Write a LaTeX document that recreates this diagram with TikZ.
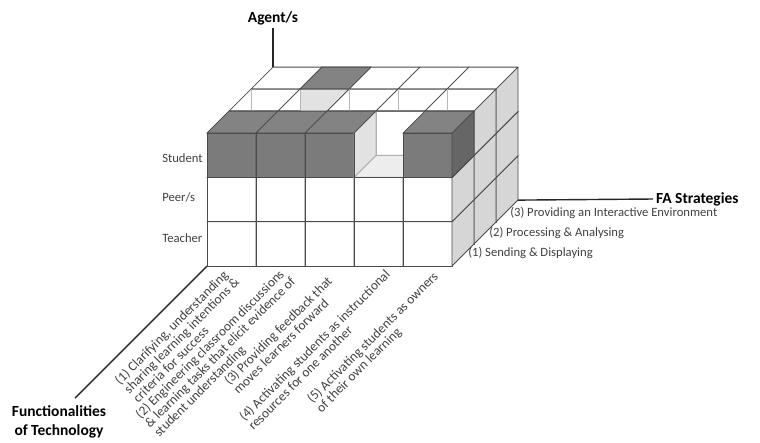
\documentclass[tikz,border=0pt]{standalone}
\usepackage{fontspec}
\setmainfont{Carlito}
\usepackage{tikz}
\usetikzlibrary{calc}
\definecolor{cubedark}{HTML}{7B7B7B}
\definecolor{cubedarktop}{HTML}{838383}
\definecolor{cubedarkside}{HTML}{666666}
\definecolor{cubeside}{HTML}{D6D6D6}
\definecolor{cubeline}{HTML}{4A4A4A}
\tikzstyle{face} = [draw=cubeline, line width=0.6pt, line join=round]
\tikzstyle{faint} = [draw=cubeline!40, line width=0.5pt]
\tikzstyle{axis} = [draw=black!85, line width=1pt]
\tikzset{
  axislabel/.style  = {font=\fontsize{11}{13.5}\selectfont\bfseries, align=center, inner sep=2pt},
  rowlabel/.style   = {font=\fontsize{9}{10}\selectfont, anchor=west, text=black!75, inner sep=0pt},
  depthlabel/.style = {rowlabel},
  collabel/.style   = {font=\fontsize{9.5}{7.6}\selectfont, rotate=45, anchor=north east,
                       align=left, inner sep=0pt, text=black!75}
}
% one unit cube: column, row, depth, front fill, top fill, right fill
\newcommand{\drawcell}[6]{%
  \pgfmathsetmacro{\cx}{207+49*#1+22*#3}%
  \pgfmathsetmacro{\cy}{266-44.3*#2-22*#3}%
  \path [face, fill=#4] (\cx,\cy) rectangle ++(49,-44.3);
  \path [face, fill=#5] (\cx,\cy-44.3) -- ++(22,-22) -- ++(49,0) -- ++(-22,22) -- cycle;
  \path [face, fill=#6] (\cx+49,\cy) -- ++(22,-22) -- ++(0,-44.3) -- ++(-22,22) -- cycle;
}

\begin{document}
\begin{tikzpicture}[x=0.025cm, y=-0.025cm]
	\useasboundingbox (0,0) rectangle (760,442);
	% Block of cells, back to front
	\foreach \k in {2,1,0}
	  \foreach \j in {0,1,2}
	    \foreach \i in {0,...,4}
	      {\drawcell{\i}{\j}{\k}{white}{white}{cubeside}}
	% Back layer, student
	\path [face, fill=cubedarktop] (300,89.1) -- (322,67.1) -- (371,67.1) -- (349,89.1) -- cycle;
	\path [fill=cubeside!70] (300,89.1) -- (349,89.1) -- (327,111.1) -- (300,111.1) -- cycle;
	\foreach \i in {0,...,4}
	  \draw [faint] (251+49*\i,89.1) -- ++(0,22);
	\draw [face] (300,89.1) -- (349,89.1) -- (327,111.1);
	% Front layer, student
	\foreach \i in {0,1,2}
	  {\drawcell{\i}{2}{0}{cubedark}{cubedarktop}{cubedarkside}}
	\path [face, draw=cubeline!45, fill=white] (376,155.4) rectangle (425,111.1);
	\path [face, draw=cubeline!45, fill=cubeside!70] (354,177.4) -- (376,155.4) -- (376,111.1) -- (354,133.1) -- cycle;
	\path [face, draw=cubeline!45, fill=cubeside!45] (354,177.4) -- (403,177.4) -- (425,155.4) -- (376,155.4) -- cycle;
	\draw [face] (354,133.1) -- (354,177.4) -- (403,177.4);
	\draw [face] (354,133.1) -- (376,111.1) -- (425,111.1);
	\drawcell{4}{2}{0}{cubedark}{cubedarktop}{cubedarkside}

	% Place nodes
	\coordinate (agentbase) at (273,67.1);
	\coordinate (fabase) at (518,200.1);
	\coordinate (origin) at (207,266);
	\coordinate (funcend) at (75,398);
	\node [axislabel] (agent) at (273,18) {Agent/s};
	\node [axislabel, anchor=west] (fa) at (653,199) {FA Strategies};
	\node [axislabel] (func) at (59,422) {Functionalities\\of Technology};
	% Agents
	\node [rowlabel] (student) at (162,158) {Student};
	\node [rowlabel] (peer) at (162,197) {Peer/s};
	\node [rowlabel] (teacher) at (162,238) {Teacher};
	% FA strategies
	\node [depthlabel] (sending) at (468,253) {(1) Sending \& Displaying};
	\node [depthlabel] (processing) at (489,233) {(2) Processing \& Analysing};
	\node [depthlabel] (providing) at (510,213) {(3) Providing an Interactive Environment};
	% Functionalities
	\node [collabel] (clarify) at (224,267) {(1) Clarifying, understanding\\sharing learning intentions \&\\criteria for success};
	\node [collabel] (engineer) at (280,266) {(2) Engineering classroom discussions\\\& learning tasks that elicit evidence of\\student understanding};
	\node [collabel] (feedback) at (326,275) {(3) Providing feedback that\\moves learners forward};
	\node [collabel] (resources) at (384,268) {(4) Activating students as instructional\\resources for one another};
	\node [collabel] (owners) at (432,270) {(5) Activating students as owners\\of their own learning};
	% Draw axes
	\draw [axis] (agentbase) -- (agent);
	\draw [axis] (fabase) -- (fa.west);
	\draw [axis] (origin) -- (funcend);
\end{tikzpicture}
\end{document}
